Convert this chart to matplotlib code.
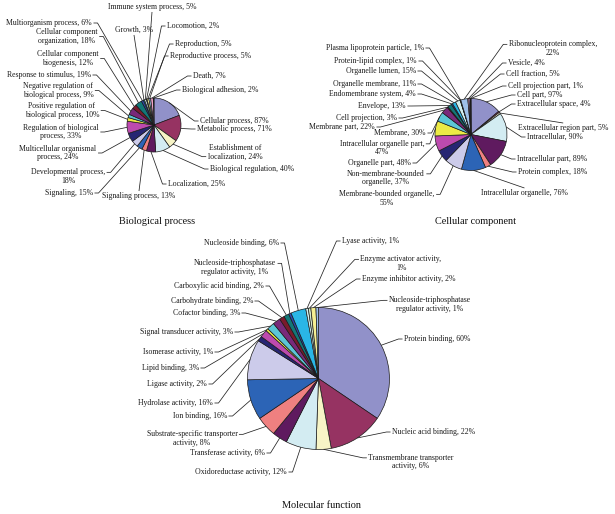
import matplotlib
matplotlib.use("Agg")
import matplotlib.pyplot as plt
import numpy as np

plt.rcParams['font.family'] = ['Liberation Serif', 'DejaVu Serif']

# ---- data (slices listed clockwise from 12 o'clock) ----
bp_labels = ["Cellular process, 87%", "Metabolic process, 71%",
             "Establishment of\nlocalization, 24%", "Biological regulation, 40%",
             "Localization, 25%", "Signaling process, 13%", "Signaling, 15%",
             "Developmental process,\n18%", "Multicellular organismal\nprocess, 24%",
             "Regulation of biological\nprocess, 33%",
             "Positive regulation of\nbiological process, 10%",
             "Negative regulation of\nbiological process, 9%",
             "Response to stimulus, 19%", "Cellular component\nbiogenesis, 12%",
             "Cellular component\norganization, 18%", "Multiorganism process, 6%",
             "Growth, 3%", "Immune system process, 5%", "Locomotion, 2%",
             "Reproduction, 5%", "Reproductive process, 5%", "Death, 7%",
             "Biological adhesion, 2%"]
bp_values = [87, 71, 24, 40, 25, 13, 15, 18, 24, 33, 10, 9, 19, 12, 18, 6, 3, 5, 2, 5, 5, 7, 2]

cc_labels = ["Cell part, 97%", "Extracellular space, 4%", "Extracellular region part, 5%",
             "Intracellular, 90%", "Intracellular part, 89%", "Protein complex, 18%",
             "Intracellular organelle, 76%", "Membrane-bounded organelle,\n55%",
             "Non-membrane-bounded\norganelle, 37%", "Organelle part, 48%",
             "Intracellular organelle part,\n47%", "Membrane, 30%", "Membrane part, 22%",
             "Cell projection, 3%", "Envelope, 13%", "Endomembrane system, 4%",
             "Organelle membrane, 11%", "Organelle lumen, 15%", "Protein-lipid complex, 1%",
             "Plasma lipoprotein particle, 1%", "Ribonucleoprotein complex,\n22%",
             "Vesicle, 4%", "Cell fraction, 5%", "Cell projection part, 1%"]
cc_values = [97, 4, 5, 90, 89, 18, 76, 55, 37, 48, 47, 30, 22, 3, 13, 4, 11, 15, 1, 1, 22, 4, 5, 1]

mf_labels = ["Protein binding, 60%", "Nucleic acid binding, 22%",
             "Transmembrane transporter\nactivity, 6%", "Oxidoreductase activity, 12%",
             "Transferase activity, 6%", "Substrate-specific transporter\nactivity, 8%",
             "Ion binding, 16%", "Hydrolase activity, 16%", "Ligase activity, 2%",
             "Lipid binding, 3%", "Isomerase activity, 1%", "Signal transducer activity, 3%",
             "Cofactor binding, 3%", "Carbohydrate binding, 2%", "Carboxylic acid binding, 2%",
             "Nucleoside-triphosphatase\nregulator activity, 1%", "Nucleoside binding, 6%",
             "Lyase activity, 1%", "Enzyme activator activity,\n1%",
             "Enzyme inhibitor activity, 2%",
             "Nucleoside-triphosphatase\nregulator activity, 1%"]
mf_values = [60, 22, 6, 12, 6, 8, 16, 16, 2, 3, 1, 3, 3, 2, 2, 1, 6, 1, 1, 2, 1]

titles = ["Biological process", "Cellular component", "Molecular function"]

# ---- layout (pixel coordinates, y downwards) ----
palette = ['#9191c9', '#963362', '#f7f4c6', '#d3ecf2', '#5f1a5f', '#ef8080',
           '#2c64b6', '#cccbea', '#272673', '#bd4aae', '#ecea45', '#5cc6d6',
           '#792a7a', '#7a1a2c', '#127878', '#2a48ad', '#2ab6e6', '#d3f0f0',
           '#d5ebcf', '#f5ef92', '#9ebfe8', '#f0a2c8', '#c8a2e6', '#f7cc9e']

# (x, y, ha, side where the leader line meets the text)
bp_pos = [(200, 121, 'left', 'l'), (197, 129, 'left', 'l'), (235, 152.5, 'center', 'lb'),
          (210, 169, 'left', 'l'), (168, 184, 'left', 'l'), (139, 196, 'center', 't'),
          (93, 193, 'right', 'r'), (68, 176.5, 'center', 'rt'), (58, 153, 'center', 'r'),
          (61, 132, 'center', 'r'), (62, 110.5, 'center', 'r'), (58, 90.5, 'center', 'r'),
          (91, 75, 'right', 'r'), (68, 58.5, 'center', 'r'), (67, 36.5, 'center', 'r'),
          (92, 23, 'right', 'r'), (134, 30, 'center', 'b'), (152, 7, 'center', 'b'),
          (167, 26, 'left', 'l'), (175, 44, 'left', 'l'), (170, 56, 'left', 'l'),
          (193, 76, 'left', 'l'), (182, 90, 'left', 'l')]

cc_pos = [(517, 95, 'left', 'l'), (517, 104, 'left', 'l'), (518, 128, 'left', 't'),
          (527, 137, 'left', 'l'), (517, 159, 'left', 'l'), (518, 172, 'left', 'l'),
          (481, 193, 'left', 't'), (387, 198.5, 'center', 'rt'), (386, 178, 'center', 'rt'),
          (411, 163, 'right', 'r'), (382, 148, 'center', 'rt'), (426, 133, 'right', 'r'),
          (375, 127, 'right', 'r'), (397, 118, 'right', 'r'), (406, 106, 'right', 'r'),
          (416, 94, 'right', 'r'), (416, 84, 'right', 'r'), (416, 71, 'right', 'r'),
          (417, 61, 'right', 'r'), (424, 48, 'right', 'r'), (553, 48.5, 'center', 'lt'),
          (508, 63, 'left', 'l'), (506, 74, 'left', 'l'), (508, 86, 'left', 'l')]

mf_pos = [(404, 339, 'left', 'l'), (392, 432, 'left', 'l'), (411, 462, 'center', 'lt'),
          (287, 472, 'right', 'r'), (265, 453, 'right', 'r'), (192, 438.5, 'center', 'rt'),
          (227, 416, 'right', 'r'), (213, 403, 'right', 'r'), (207, 384, 'right', 'r'),
          (199, 368, 'right', 'r'), (213, 352, 'right', 'r'), (233, 332, 'right', 'r'),
          (240, 313, 'right', 'r'), (253, 301, 'right', 'r'), (264, 286, 'right', 'r'),
          (235, 267.5, 'center', 'rt'), (279, 243, 'right', 'r'), (342, 241, 'left', 'l'),
          (401, 263.5, 'center', 'lt'), (362, 279, 'left', 'l'), (430, 304.5, 'center', 'lt')]

centers = [(154, 125), (471, 134.5), (318.5, 378.5)]
radii = [27, 36, 71]
title_xy = [(157, 222), (476, 222), (321, 505)]

W, H = 615, 514
FS = 5.6

fig = plt.figure(figsize=(W / 100, H / 100), dpi=100)
ax = fig.add_axes([0, 0, 1, 1])

groups = []
for vals, labs, pos, c, r in zip([bp_values, cc_values, mf_values],
                                 [bp_labels, cc_labels, mf_labels],
                                 [bp_pos, cc_pos, mf_pos], centers, radii):
    wedges, _ = ax.pie(vals, colors=palette[:len(vals)], center=c, radius=r,
                       startangle=-90, counterclock=True,
                       wedgeprops=dict(edgecolor='#1a1a1a', linewidth=0.5))
    texts = []
    for lab, (x, y, ha, side) in zip(labs, pos):
        t = ax.text(x, y, lab, ha=ha, va='center', ma='center', fontsize=FS,
                    linespacing=1.1, color='#1a1a1a')
        texts.append(t)
    groups.append((wedges, texts, pos, c, r))

for (x, y), t in zip(title_xy, titles):
    ax.text(x, y, t, ha='center', va='center', fontsize=7.4, color='#111111')

ax.set_xlim(0, W)
ax.set_ylim(H, 0)
ax.axis('off')

fig.canvas.draw()
renderer = fig.canvas.get_renderer()
inv = ax.transData.inverted()

# leader lines
for wedges, texts, pos, (cx, cy), r in groups:
    for w, t, (x, y, ha, side) in zip(wedges, texts, pos):
        th = np.deg2rad((w.theta1 + w.theta2) / 2)
        px, py = cx + r * np.cos(th), cy + r * np.sin(th)
        bb = t.get_window_extent(renderer)
        (x0, ya), (x1, yb) = inv.transform([[bb.x0, bb.y0], [bb.x1, bb.y1]])
        top, bot = min(ya, yb), max(ya, yb)
        nl = t.get_text().count('\n') + 1
        lh = (bot - top) / nl
        if side[0] in 'lr':
            ay = (top + bot) / 2
            if side.endswith('t'):
                ay = top + lh / 2
            elif side.endswith('b'):
                ay = bot - lh / 2
            if side[0] == 'l':
                ax_ = x0 - 1.5
                xs, ys = [px, ax_ - 4, ax_], [py, ay, ay]
            else:
                ax_ = x1 + 1.5
                xs, ys = [px, ax_ + 4, ax_], [py, ay, ay]
        else:
            ax_ = (x0 + x1) / 2
            ay = top - 1 if side == 't' else bot + 1
            xs, ys = [px, ax_], [py, ay]
        ax.plot(xs, ys, color='#222222', lw=0.55, solid_capstyle='butt')

fig.savefig('out.png', dpi=100)
